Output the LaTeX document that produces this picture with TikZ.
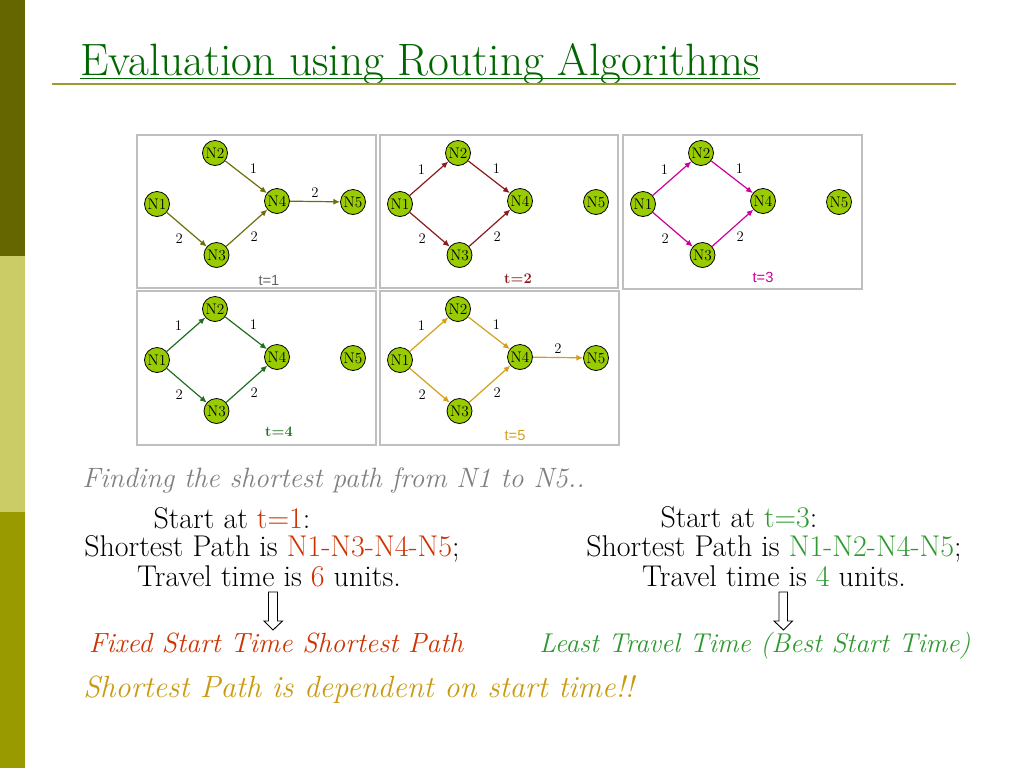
\documentclass[tikz,border=0pt]{standalone}
\usepackage{fontspec}
\setsansfont{Liberation Sans}
\usepackage{tikz}
\usetikzlibrary{arrows.meta, positioning, calc}

\definecolor{barDark}{HTML}{666600}
\definecolor{barLight}{HTML}{CCCC66}
\definecolor{barMid}{HTML}{999900}
\definecolor{titleGreen}{HTML}{006600}
\definecolor{ruleOlive}{HTML}{9C9C2E}
\definecolor{boxGray}{HTML}{BFBFBF}
\definecolor{nodeGreen}{HTML}{99CC00}
\definecolor{edgeA}{HTML}{6E6E0A}
\definecolor{edgeB}{HTML}{8B1A1A}
\definecolor{edgeC}{HTML}{CC0099}
\definecolor{edgeD}{HTML}{1F6F1F}
\definecolor{edgeE}{HTML}{D4A017}
\definecolor{pathRed}{HTML}{CC3300}
\definecolor{pathGreen}{HTML}{2E9A2E}
\definecolor{noteGold}{HTML}{C99A10}

\tikzset{
  nd/.style={circle, draw=black, line width=0.6pt, fill=nodeGreen, minimum size=18.75pt,
    inner sep=0pt, font=\fontsize{11.5}{11.5}\selectfont},
  wt/.style={font=\fontsize{11}{11}\selectfont, inner sep=2.5pt, text=black},
  edge/.style={-{Latex[length=5pt,width=4.5pt]}, line width=0.9pt},
  panelbox/.style={draw=boxGray, line width=0.8pt},
  body/.style={font=\fontsize{22.5}{25}\selectfont, anchor=base},
  downarrow/.style={draw=black, line width=0.7pt, fill=white}
}

% the five nodes of one panel, names prefixed by #1
\newcommand{\fivenodes}[1]{%
  \node[nd] (#1n1) at (20,69) {N1};
  \node[nd] (#1n2) at (78,18) {N2};
  \node[nd] (#1n3) at (79.5,120) {N3};
  \node[nd] (#1n4) at (140,66) {N4};
  \node[nd] (#1n5) at (216,67) {N5};
}

\begin{document}
\begin{tikzpicture}[x=0.75pt, y=-0.75pt]
\useasboundingbox (0,0) rectangle (1024,768);

% side bar
\fill[barDark] (0,0) rectangle (25,256);
\fill[barLight] (0,256) rectangle (25,512);
\fill[barMid] (0,512) rectangle (25,768);

% title
\node[anchor=base west, inner sep=0pt, text=titleGreen, font=\fontsize{34}{36}\selectfont] (title) at (80,75) {Evaluation using Routing Algorithms};
\draw[titleGreen, line width=1.2pt] ($(title.base west)+(0,3.5)$) -- ($(title.base east)+(0,3.5)$);
\draw[ruleOlive, line width=1.6pt] (52,84) -- (956,84);

% t=1
\begin{scope}[shift={(137,135)}]
  \draw[panelbox] (0,0) rectangle (239,153);
  \fivenodes{a}
  \draw[edge, edgeA] (an1) -- node[wt, below left] {2} (an3);
  \draw[edge, edgeA] (an2) -- node[wt, above right] {1} (an4);
  \draw[edge, edgeA] (an3) -- node[wt, below right] {2} (an4);
  \draw[edge, edgeA] (an4) -- node[wt, above] {2} (an5);
  \node[font=\sffamily\fontsize{11}{11}\selectfont, text=black!60] (ta) at (132,146) {t=1};
\end{scope}

% t=2
\begin{scope}[shift={(380,135)}]
  \draw[panelbox] (0,0) rectangle (238,153);
  \fivenodes{b}
  \draw[edge, edgeB] (bn1) -- node[wt, above left] {1} (bn2);
  \draw[edge, edgeB] (bn1) -- node[wt, below left] {2} (bn3);
  \draw[edge, edgeB] (bn2) -- node[wt, above right] {1} (bn4);
  \draw[edge, edgeB] (bn3) -- node[wt, below right] {2} (bn4);
  \node[font=\bfseries\fontsize{11}{11}\selectfont, text=edgeB] (tb) at (138,144) {t=2};
\end{scope}

% t=3
\begin{scope}[shift={(623,135)}]
  \draw[panelbox] (0,0) rectangle (239,154);
  \fivenodes{c}
  \draw[edge, edgeC] (cn1) -- node[wt, above left] {1} (cn2);
  \draw[edge, edgeC] (cn1) -- node[wt, below left] {2} (cn3);
  \draw[edge, edgeC] (cn2) -- node[wt, above right] {1} (cn4);
  \draw[edge, edgeC] (cn3) -- node[wt, below right] {2} (cn4);
  \node[font=\sffamily\fontsize{11}{11}\selectfont, text=edgeC] (tc) at (140,142) {t=3};
\end{scope}

% t=4
\begin{scope}[shift={(137,291)}]
  \draw[panelbox] (0,0) rectangle (239,154);
  \fivenodes{d}
  \draw[edge, edgeD] (dn1) -- node[wt, above left] {1} (dn2);
  \draw[edge, edgeD] (dn1) -- node[wt, below left] {2} (dn3);
  \draw[edge, edgeD] (dn2) -- node[wt, above right] {1} (dn4);
  \draw[edge, edgeD] (dn3) -- node[wt, below right] {2} (dn4);
  \node[font=\bfseries\fontsize{11}{11}\selectfont, text=edgeD] (td) at (142,141) {t=4};
\end{scope}

% t=5
\begin{scope}[shift={(380,291)}]
  \draw[panelbox] (0,0) rectangle (239,154);
  \fivenodes{e}
  \draw[edge, edgeE] (en1) -- node[wt, above left] {1} (en2);
  \draw[edge, edgeE] (en1) -- node[wt, below left] {2} (en3);
  \draw[edge, edgeE] (en2) -- node[wt, above right] {1} (en4);
  \draw[edge, edgeE] (en3) -- node[wt, below right] {2} (en4);
  \draw[edge, edgeE] (en4) -- node[wt, above] {2} (en5);
  \node[font=\sffamily\fontsize{11}{11}\selectfont, text=edgeE] (te) at (135,145) {t=5};
\end{scope}

% text below
\node[anchor=base west, inner sep=0pt, text=black!50, font=\itshape\fontsize{21}{23}\selectfont] (find) at (82,487) {Finding the shortest path from N1 to N5..};

\node[body] (l1) at (232,528) {Start at \textcolor{pathRed}{t=1}:};
\node[body] (l2) at (272,556) {Shortest Path is \textcolor{pathRed}{N1-N3-N4-N5};};
\node[body] (l3) at (269,586) {Travel time is \textcolor{pathRed}{6} units.};

\node[body] (r1) at (739,527) {Start at \textcolor{pathGreen}{t=3}:};
\node[body] (r2) at (774,556) {Shortest Path is \textcolor{pathGreen}{N1-N2-N4-N5};};
\node[body] (r3) at (774,586) {Travel time is \textcolor{pathGreen}{4} units.};

\draw[downarrow] (268.5,592) -- (277.5,592) -- (277.5,621) -- (282.5,621) -- (273,630) -- (264,621) -- (268.5,621) -- cycle;
\draw[downarrow] (779,592) -- (787.5,592) -- (787.5,621) -- (792.5,621) -- (783.5,630) -- (774,621) -- (779,621) -- cycle;

\node[body, text=pathRed, font=\itshape\fontsize{20.8}{23}\selectfont] (fixed) at (276,652) {Fixed Start Time Shortest Path};
\node[body, text=pathGreen, font=\itshape\fontsize{20.4}{23}\selectfont] (least) at (755,652) {Least Travel Time (Best Start Time)};

\node[anchor=base west, inner sep=0pt, text=noteGold, font=\itshape\fontsize{23}{25}\selectfont] (note) at (83,697) {Shortest Path is dependent on start time!!};
\end{tikzpicture}
\end{document}
